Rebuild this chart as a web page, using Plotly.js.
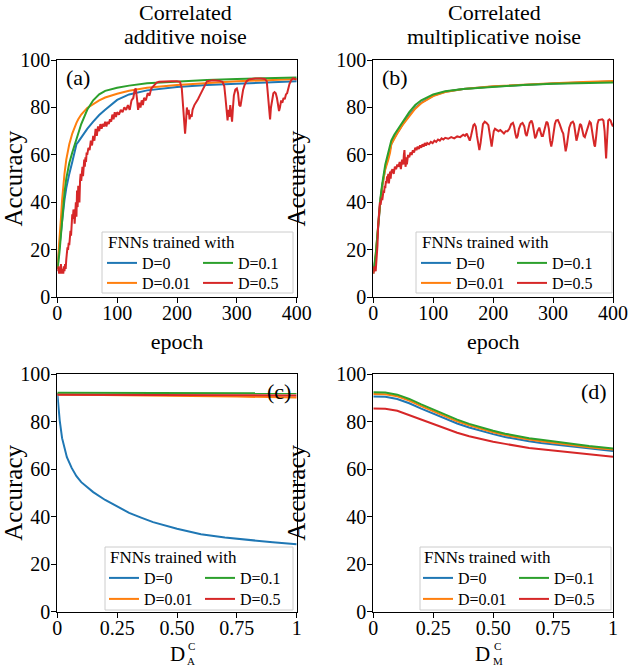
<!DOCTYPE html>
<html>
<head>
<meta charset="utf-8">
<script src="https://cdn.plot.ly/plotly-3.0.1.min.js"></script>
<style>
  body { margin: 0; background: #fff; }
  #fig { width: 628px; height: 666px; }
</style>
</head>
<body>
<div id="fig"></div>
<script>
// ---- data ----------------------------------------------------------------
// (a) correlated additive noise, accuracy vs epoch
let epochSmoothA = [0, 2, 4, 6, 8, 10, 12, 15, 18, 20, 25, 30, 32, 35, 40, 50, 60, 70, 80, 100, 120, 150, 200, 250, 300, 350, 400];
let accA_D0   = [13, 17, 22, 27, 32, 37, 41, 46, 50, 52, 57, 62, 64.5, 65.5, 67.5, 71, 74, 76.8, 79, 83.2, 85.5, 87.2, 88.6, 89.5, 90, 90.5, 91];
let accA_D001 = [12, 18, 25, 33, 41, 47, 52, 58, 62, 64.5, 69, 72.5, 73.5, 75, 77, 79.8, 81.5, 83, 84.2, 85.8, 87, 88.3, 89.5, 90.3, 91, 91.5, 92];
let accA_D01  = [12, 15, 20, 26, 33, 39, 44, 50, 54, 56.5, 61, 65, 66.5, 69.5, 73, 79, 83, 85.5, 87, 88.3, 89.2, 90.2, 91, 91.6, 92, 92.3, 92.6];

let epochNoisyA = [0, 2, 3, 4, 5, 6, 7, 8, 9, 10, 11, 12, 13, 14, 15, 16, 17, 18, 19, 20,
  21, 22, 23, 24, 25, 26, 27, 28, 29, 30, 31, 32, 33, 34, 35, 36, 37, 38, 39, 40,
  41, 42, 43, 44, 45, 46, 47, 48, 49, 50, 52, 54, 56, 58, 60, 62, 64, 66, 68, 70,
  72, 74, 76, 78, 80, 82, 84, 86, 88, 90, 92, 94, 96, 98, 100, 103, 106, 109, 112, 115,
  118, 121, 124, 127, 129, 131, 133, 135, 137, 139, 141, 143, 145, 148, 151, 154, 157, 160, 163, 166,
  170, 180, 190, 200, 205, 208, 210, 212, 213.5, 215, 216.5, 218, 219.5, 221, 223, 224.5, 226, 229, 232, 235,
  238, 241, 244, 247, 250, 260, 270, 276, 279, 281, 283, 284.5, 286, 287.5, 289, 290.5, 292, 293.5, 295, 297.5,
  300, 302, 304, 306, 308, 310.5, 313, 316, 320, 330, 340, 347, 350, 352, 354, 355.5, 357, 359, 361, 363,
  365, 367, 369, 370.5, 372, 374, 376, 378, 380, 382, 384, 386, 388, 391, 394, 397, 400];
let accA_D05 = [11, 13, 10, 12, 10, 14, 11, 10, 12, 10, 13, 11, 14, 12, 16, 19, 21, 20, 23, 22,
  25, 28, 26, 31, 35, 33, 37, 36, 31, 38, 40, 34, 45, 38, 47, 42, 40, 49, 52, 49,
  53, 55, 51, 56, 58, 55, 59, 57, 61, 60, 63, 62, 66, 64, 68, 66, 71, 68, 72, 70,
  73, 71, 73, 72, 74, 72, 74, 73, 75, 74, 77, 75, 78, 76, 78, 77, 79, 78, 80, 79,
  81, 79, 83, 84, 87, 88, 84, 79, 82, 80, 83, 81, 84, 83, 86, 85, 88, 89, 90, 90.5,
  90.8, 91, 91, 91, 90.8, 88, 80, 72, 69, 74, 80, 77, 79, 75, 77, 76, 79, 81, 82, 83.5,
  85, 86.5, 88, 90, 91, 91.5, 91.3, 90.8, 89, 84, 77, 74.5, 79, 76, 81, 77, 74, 80, 85, 87.5,
  88, 86, 81, 80.5, 84, 87.5, 89.5, 91, 91.8, 92.2, 92.2, 92, 91, 85, 78, 75, 80, 84, 86, 86.5,
  86, 84, 80, 78.5, 80, 83, 82, 84, 83.5, 85.5, 86, 88, 90, 91.5, 92.3, 92, 91.8];

// (b) correlated multiplicative noise, accuracy vs epoch
let epochSmoothB = [0, 2, 4, 6, 8, 10, 12, 15, 18, 20, 25, 28, 30, 35, 40, 50, 60, 70, 80, 100, 120, 150, 200, 250, 300, 350, 400];
let accB_D0   = [10, 13, 17, 23, 30, 36, 41, 47, 51.5, 54.5, 59, 62, 64.5, 67.2, 69.3, 73.3, 76.8, 79.8, 82, 85, 86.6, 87.8, 88.8, 89.6, 90.1, 90.5, 90.9];
let accB_D001 = [10, 13, 18, 24, 30, 36, 41, 47, 51, 54, 58, 61, 64.5, 67, 69, 73, 76.5, 79.5, 81.8, 84.8, 86.5, 87.8, 88.9, 89.7, 90.2, 90.7, 91.2];
let accB_D01  = [11, 14, 18, 24, 31, 37, 42, 48, 53, 56, 61, 64.5, 66, 68.5, 70.5, 74.5, 78, 81, 83, 85.5, 86.8, 87.8, 88.8, 89.5, 90, 90.3, 90.5];

let epochNoisyB = [0, 1, 2, 3, 4, 5, 6, 7, 8, 9, 10, 11, 12, 13, 14, 15, 16, 17, 18, 19,
  20, 21, 22, 23, 24, 25, 26, 27, 28, 29, 30, 32, 34, 36, 38, 40, 42, 44, 46, 48,
  50, 51, 52, 53, 54, 55, 56, 58, 60, 62, 64, 66, 68, 70, 72, 74, 76, 78, 80, 82,
  84, 86, 88, 90, 93, 96, 99, 102, 105, 108, 111, 114, 117, 120, 125, 130, 135, 140, 145, 150,
  153, 156, 159, 161, 163, 165, 167, 169, 171, 173, 175, 177, 179, 181, 183, 186, 189, 192, 194, 196,
  197.5, 199, 201, 203, 206, 209, 212, 215, 218, 221, 224, 227, 230, 233, 235, 237, 239, 241, 243, 246,
  249, 252, 254, 256, 258, 261, 264, 266, 268, 270, 272, 274, 277, 279, 281, 283, 285, 287, 289, 291,
  293, 295, 297, 299, 301, 303, 305, 308, 311, 313, 315, 317, 319, 321, 323, 325, 327, 330, 333, 335,
  337, 339, 341, 343, 345, 347, 349, 351, 353, 355, 358, 361, 363, 365, 367, 369, 370, 372, 374, 376,
  379, 382, 384, 386, 387.5, 388.5, 390, 392, 394, 396, 398, 400];
let accB_D05 = [10, 13, 11, 12, 11, 14, 17, 22, 30, 34, 38, 40, 39, 41, 42, 41, 43, 45, 44, 47,
  46, 49, 48, 51, 50, 52, 48, 51, 53, 50, 53, 54, 52, 55, 54, 56, 55, 57, 54, 58,
  56, 60, 62, 57, 55, 59, 56, 60, 59, 61, 60, 62, 61, 63, 62, 63.5, 62.5, 64, 63, 64.5,
  63.5, 65, 64, 65, 64.5, 65.5, 65, 66, 65.5, 66.5, 66, 67, 66.5, 67.2, 66.8, 67.5, 67, 67.8, 67.5, 68.5,
  68, 69, 67, 66, 68, 71, 72.5, 73, 72, 68, 64, 62, 65, 70, 73, 74, 73.5, 72.5, 70, 66,
  63.5, 66, 70, 71, 70.5, 70, 70.5, 69.5, 69, 70, 70, 71, 73, 73.5, 72, 69, 67, 68, 71, 73,
  73.5, 72, 69, 68, 70, 73.5, 74.5, 73, 70, 67, 68, 70, 71.5, 70, 68, 68, 70, 73, 74, 73.5,
  71, 66, 63.5, 66, 70, 73, 74.5, 74.7, 73, 71, 70, 69, 66, 61.5, 64, 69, 71.5, 73.5, 74, 73,
  70, 66, 68, 71, 73, 72.5, 70, 68, 67.5, 69, 72, 74, 73.5, 71, 67, 64, 63.5, 68, 73, 74.7,
  75, 75, 74.5, 70, 63, 58.5, 66, 74.5, 75, 74.5, 73, 72];

// (c) accuracy vs correlated additive noise intensity
let noiseC = [0, 0.005, 0.01, 0.02, 0.03, 0.04, 0.06, 0.08, 0.1, 0.125, 0.15, 0.2, 0.25, 0.3, 0.35, 0.4, 0.5, 0.6, 0.7, 0.8, 0.9, 1.0];
let accC_D0 = [92, 86.5, 80.5, 73, 68.5, 65, 60.5, 57, 54.5, 52.3, 50.3, 47, 44.2, 41.6, 39.6, 37.7, 34.9, 32.6, 31.2, 30.1, 29.2, 28.4];
let noiseCFlat = [0, 0.25, 0.5, 0.75, 1];
let accC_D001 = [91.4, 91.2, 90.9, 90.5, 90.1];
let accC_D01  = [92.1, 92.1, 92.0, 92.0, 91.9];
let accC_D05  = [91.3, 91.2, 91.1, 91.0, 91.0];

// (d) accuracy vs correlated multiplicative noise intensity
let noiseD = [0, 0.05, 0.1, 0.15, 0.2, 0.25, 0.3, 0.35, 0.4, 0.45, 0.5, 0.55, 0.6, 0.65, 0.7, 0.75, 0.8, 0.85, 0.9, 0.95, 1];
let accD_D0   = [90.5, 90.4, 89.5, 87.7, 85.4, 83.3, 81.1, 79.2, 77.5, 76.0, 74.7, 73.5, 72.5, 71.7, 71.0, 70.4, 69.8, 69.2, 68.6, 68.1, 67.6];
let accD_D001 = [91.6, 91.5, 90.6, 88.8, 86.5, 84.3, 82.1, 80.1, 78.4, 76.9, 75.5, 74.3, 73.3, 72.4, 71.7, 71.0, 70.4, 69.8, 69.2, 68.7, 68.2];
let accD_D01  = [92.3, 92.2, 91.3, 89.5, 87.2, 85.0, 82.8, 80.8, 79.0, 77.5, 76.1, 74.9, 73.9, 73.0, 72.3, 71.6, 71.0, 70.3, 69.7, 69.2, 68.7];
let accD_D05  = [85.5, 85.4, 84.5, 82.7, 80.6, 79.0, 77.1, 75.3, 73.8, 72.6, 71.5, 70.6, 69.7, 68.9, 68.3, 67.8, 67.2, 66.7, 66.2, 65.7, 65.2];

let seriesNames = ["D=0", "D=0.01", "D=0.1", "D=0.5"];
let seriesColors = ["#1f77b4", "#ff7f0e", "#2ca02c", "#d62728"];
let epochTicks = [0, 100, 200, 300, 400];
let noiseTicks = [0, 0.25, 0.5, 0.75, 1];
let noiseTickText = ["0", "0.25", "0.50", "0.75", "1"];
let accTicks = [0, 20, 40, 60, 80, 100];

// ---- layout helpers -------------------------------------------------------
const W = 628, H = 666;
const FONT = "Liberation Serif";
function px(x) { return x / W; }
function py(y) { return 1 - y / H; }

// subplot pixel boxes [left, right, top, bottom]
let boxes = [
  [57.3, 296.7, 60, 297.3],
  [373.3, 613, 60, 297.3],
  [57.3, 296.7, 374, 611.7],
  [373.3, 613, 374, 611.7]
];

function trace(x, y, k, panel, legendRow1, legendRow2) {
  // k indexes seriesNames/colors; D=0 and D=0.1 go in the first legend row
  let row1 = (k === 0 || k === 2);
  return {
    x: x, y: y, mode: "lines", type: "scatter",
    name: seriesNames[k],
    line: { color: seriesColors[k], width: 2 },
    xaxis: panel === 1 ? "x" : "x" + panel,
    yaxis: panel === 1 ? "y" : "y" + panel,
    legend: row1 ? legendRow1 : legendRow2,
    hoverinfo: "skip"
  };
}

let traces = [
  trace(epochSmoothA, accA_D0, 0, 1, "legend", "legend2"),
  trace(epochSmoothA, accA_D001, 1, 1, "legend", "legend2"),
  trace(epochSmoothA, accA_D01, 2, 1, "legend", "legend2"),
  trace(epochNoisyA, accA_D05, 3, 1, "legend", "legend2"),

  trace(epochSmoothB, accB_D0, 0, 2, "legend3", "legend4"),
  trace(epochSmoothB, accB_D001, 1, 2, "legend3", "legend4"),
  trace(epochSmoothB, accB_D01, 2, 2, "legend3", "legend4"),
  trace(epochNoisyB, accB_D05, 3, 2, "legend3", "legend4"),

  trace(noiseC, accC_D0, 0, 3, "legend5", "legend6"),
  trace(noiseCFlat, accC_D001, 1, 3, "legend5", "legend6"),
  trace(noiseCFlat, accC_D01, 2, 3, "legend5", "legend6"),
  trace(noiseCFlat, accC_D05, 3, 3, "legend5", "legend6"),

  trace(noiseD, accD_D0, 0, 4, "legend7", "legend8"),
  trace(noiseD, accD_D001, 1, 4, "legend7", "legend8"),
  trace(noiseD, accD_D01, 2, 4, "legend7", "legend8"),
  trace(noiseD, accD_D05, 3, 4, "legend7", "legend8")
];

function xAxis(b, range, tickvals, ticktext, title) {
  let ax = {
    domain: [px(b[0]), px(b[1])], range: range,
    tickmode: "array", tickvals: tickvals, ticktext: ticktext,
    ticks: "outside", ticklen: 5, tickwidth: 1, tickcolor: "#000",
    ticklabelstandoff: -7,
    showline: true, mirror: true, linecolor: "#000", linewidth: 1,
    showgrid: false, zeroline: false, fixedrange: true,
    tickfont: { family: FONT, size: 20, color: "#000" }
  };
  if (title) ax.title = { text: title, font: { family: FONT, size: 22, color: "#000" }, standoff: 10 };
  return ax;
}
function yAxis(b) {
  return {
    domain: [py(b[3]), py(b[2])], range: [0, 100],
    tickmode: "array", tickvals: accTicks,
    ticks: "outside", ticklen: 5, tickwidth: 1, tickcolor: "#000",
    ticklabelstandoff: -3,
    showline: true, mirror: true, linecolor: "#000", linewidth: 1,
    showgrid: false, zeroline: false, fixedrange: true,
    tickfont: { family: FONT, size: 20, color: "#000" },
    title: { text: "Accuracy", font: { family: FONT, size: 25, color: "#000" }, standoff: 23 }
  };
}

let layout = {
  width: W, height: H,
  margin: { l: 0, r: 0, t: 0, b: 0 },
  paper_bgcolor: "#fff", plot_bgcolor: "#fff",
  font: { family: FONT, color: "#000" },
  xaxis: xAxis(boxes[0], [0, 400], epochTicks, null, "epoch"),
  yaxis: yAxis(boxes[0]),
  xaxis2: xAxis(boxes[1], [0, 400], epochTicks, null, "epoch"),
  yaxis2: yAxis(boxes[1]),
  xaxis3: xAxis(boxes[2], [0, 1], noiseTicks, noiseTickText, null),
  yaxis3: yAxis(boxes[2]),
  xaxis4: xAxis(boxes[3], [0, 1], noiseTicks, noiseTickText, null),
  yaxis4: yAxis(boxes[3]),
  shapes: [],
  annotations: []
};
layout.xaxis.anchor = "y"; layout.xaxis2.anchor = "y2";
layout.xaxis3.anchor = "y3"; layout.xaxis4.anchor = "y4";
layout.yaxis.anchor = "x"; layout.yaxis2.anchor = "x2";
layout.yaxis3.anchor = "x3"; layout.yaxis4.anchor = "x4";

// legends: two horizontal rows per panel, with a shared box and title
let legendBoxes = [
  // [left, right, top, bottom, titleY, row1Y, row2Y, line start x]
  [102, 293, 232, 293, 242, 263, 283, 108],
  [416, 612, 232, 293, 242, 263, 283, 422],
  [105, 293, 547, 610, 557, 578, 599, 110],
  [420, 611, 547, 610, 557, 578, 599, 424]
];
let legendNames = ["legend", "legend2", "legend3", "legend4", "legend5", "legend6", "legend7", "legend8"];
legendBoxes.forEach(function (lb, i) {
  layout.shapes.push({
    type: "rect", xref: "paper", yref: "paper", layer: "above",
    x0: px(lb[0]), x1: px(lb[1]), y0: py(lb[3]), y1: py(lb[2]),
    fillcolor: "rgba(255,255,255,0.8)", line: { color: "#cccccc", width: 1 }
  });
  layout.annotations.push({
    xref: "paper", yref: "paper", x: px(lb[7] - 2), y: py(lb[4]),
    xanchor: "left", yanchor: "middle", showarrow: false,
    text: "FNNs trained with", font: { family: FONT, size: 17, color: "#000" }
  });
  [lb[5], lb[6]].forEach(function (rowY, r) {
    layout[legendNames[2 * i + r]] = {
      orientation: "h", x: px(lb[7] - 6), y: py(rowY),
      xanchor: "left", yanchor: "middle",
      bgcolor: "rgba(0,0,0,0)", borderwidth: 0,
      entrywidth: 51, entrywidthmode: "pixels", itemwidth: 30,
      font: { family: FONT, size: 16, color: "#000" },
      itemclick: false, itemdoubleclick: false
    };
  });
});

// column titles and panel labels
let colTitles = [
  ["Correlated", "additive noise", 185],
  ["Correlated", "multiplicative noise", 494]
];
colTitles.forEach(function (t) {
  layout.annotations.push({ xref: "paper", yref: "paper", x: px(t[2]), y: py(12), xanchor: "center", yanchor: "middle",
    height: 24, valign: "middle",
    showarrow: false, text: t[0], font: { family: FONT, size: 22, color: "#000" } });
  layout.annotations.push({ xref: "paper", yref: "paper", x: px(t[2]), y: py(35.5), xanchor: "center", yanchor: "middle",
    height: 22, valign: "middle",
    showarrow: false, text: t[1], font: { family: FONT, size: 22, color: "#000" } });
});
let panelLabels = [["(a)", 64, 77, "left"], ["(b)", 380, 77, "left"], ["(c)", 293, 391, "right"], ["(d)", 609, 391, "right"]];
panelLabels.forEach(function (p) {
  layout.annotations.push({ xref: "paper", yref: "paper", x: px(p[1]), y: py(p[2]), xanchor: p[3], yanchor: "middle",
    showarrow: false, text: p[0], font: { family: FONT, size: 22, color: "#000" } });
});
// x labels of (c) and (d): D with subscript A / M and superscript C stacked
let noiseLabels = [
  // [subscript, D centre x, sub/sup left x]
  ["A", 177.5, 185],
  ["M", 482.5, 491]
];
noiseLabels.forEach(function (n) {
  layout.annotations.push({ xref: "paper", yref: "paper", x: px(n[1]), y: py(654), xanchor: "center", yanchor: "middle",
    showarrow: false, text: "D", font: { family: FONT, size: 21, color: "#000" } });
  layout.annotations.push({ xref: "paper", yref: "paper", x: px(n[2]), y: py(660.5), xanchor: "left", yanchor: "middle",
    showarrow: false, text: n[0], font: { family: FONT, size: 11, color: "#000" } });
  layout.annotations.push({ xref: "paper", yref: "paper", x: px(n[2] + 0.5), y: py(646), xanchor: "left", yanchor: "middle",
    showarrow: false, text: "C", font: { family: FONT, size: 11, color: "#000" } });
});

Plotly.newPlot("fig", traces, layout, { displayModeBar: false, staticPlot: true });
</script>
</body>
</html>
